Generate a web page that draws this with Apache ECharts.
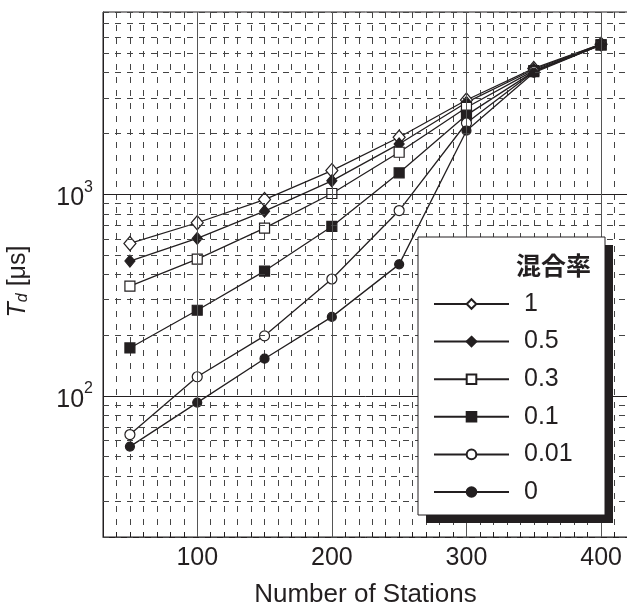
<!DOCTYPE html>
<html>
<head>
<meta charset="utf-8">
<script src="https://cdn.jsdelivr.net/npm/echarts@6/dist/echarts.min.js"></script>
<style>html,body{margin:0;padding:0;background:#fff;}#c{width:627px;height:608px;}</style>
</head>
<body>
<div id="c"></div>
<script>
const stations = [50, 100, 150, 200, 250, 300, 350, 400];
const mix1   = [570, 722, 941, 1310, 1915, 2930, 4200, 5540];
const mix05  = [466, 604, 824, 1165, 1775, 2850, 4150, 5540];
const mix03  = [350, 477, 679, 1008, 1614, 2690, 4100, 5500];
const mix01  = [173, 266, 416, 692, 1276, 2467, 4050, 5500];
const mix001 = [64.4, 124.5, 198.6, 380, 830, 2254, 4050, 5500];
const mix0   = [56.1, 92.7, 153, 246.6, 449, 2065, 4000, 5500];
const seriesNames = ['1', '0.5', '0.3', '0.1', '0.01', '0'];
const legendTitle = '混合率';
const xMajorGrid = [100, 200, 300, 400];
const yMajorGrid = [100, 1000];
const yMinorGrid = [20, 30, 40, 50, 60, 70, 80, 90, 200, 300, 400, 500, 600, 700, 800, 900, 2000, 3000, 4000, 5000, 6000, 7000, 8000];

const INK = '#231f20';
const FONT = "'Liberation Sans', Arial, sans-serif";

function pairs(ys) { return stations.map((x, i) => [x, ys[i]]); }

const symbolDefs = [
  {data: mix1,   symbol: 'diamond', size: [12, 14], fill: '#fff'},
  {data: mix05,  symbol: 'diamond', size: [10, 12], fill: INK},
  {data: mix03,  symbol: 'rect',    size: 10, fill: '#fff'},
  {data: mix01,  symbol: 'rect',    size: 10, fill: INK},
  {data: mix001, symbol: 'circle',  size: 10, fill: '#fff'},
  {data: mix0,   symbol: 'circle',  size: 9,  fill: INK}
];

const series = symbolDefs.map((d, i) => ({
  name: seriesNames[i],
  type: 'line',
  data: pairs(d.data),
  symbol: d.symbol,
  symbolSize: d.size,
  showAllSymbol: true,
  z: 3,
  lineStyle: {color: INK, width: 1.3},
  itemStyle: {color: d.fill, borderColor: INK, borderWidth: 1.2},
  emphasis: {disabled: true},
  animation: false
}));

const gridLines = []
  .concat(yMinorGrid.map(v => ({yAxis: v, lineStyle: {type: [6, 6], color: '#444', width: 1}})))
  .concat(yMajorGrid.map(v => ({yAxis: v, lineStyle: {type: 'solid', color: INK, width: 1}})))
  .concat(xMajorGrid.map(v => ({xAxis: v, lineStyle: {type: 'solid', color: '#555', width: 1}})));

series.unshift({
  name: 'grid',
  type: 'line',
  data: [],
  z: 1,
  silent: true,
  animation: false,
  markLine: {
    silent: true,
    symbol: 'none',
    animation: false,
    label: {show: false},
    emphasis: {disabled: true},
    data: gridLines
  }
});

const chart = echarts.init(document.getElementById('c'), null, {renderer: 'canvas'});
chart.setOption({
  animation: false,
  backgroundColor: '#fff',
  textStyle: {fontFamily: FONT, color: INK},
  grid: {left: 103, top: 12, width: 525, height: 525, outerBoundsMode: 'none', containLabel: false, show: true, borderColor: INK, borderWidth: 1, backgroundColor: 'transparent'},
  graphic: {
    elements: [
      {type: 'rect', z: 100, silent: true, shape: {x: 426, y: 245, width: 187, height: 278}, style: {fill: INK}},
      {type: 'rect', z: 101, silent: true, shape: {x: 418, y: 237, width: 187, height: 278}, style: {fill: '#fff', stroke: INK, lineWidth: 1}}
    ]
  },
  title: {
    text: legendTitle,
    left: 516, top: 253, padding: 0, z: 200,
    textStyle: {fontFamily: "'Noto Sans CJK JP', sans-serif", fontSize: 25, fontWeight: 'bold', color: INK}
  },
  legend: {
    data: seriesNames,
    orient: 'vertical',
    left: 418, top: 237,
    padding: [54, 33, 10, 15],
    itemWidth: 75, itemHeight: 12, itemGap: 11.6,
    selectedMode: false,
    z: 200,
    textStyle: {fontFamily: FONT, fontSize: 25, lineHeight: 26, color: INK, padding: [0, 0, 0, 10]}
  },
  xAxis: {
    type: 'value', min: 30, max: 420, interval: 10,
    name: 'Number of Stations', nameLocation: 'middle', nameGap: 45,
    nameTextStyle: {fontFamily: FONT, fontSize: 26, color: INK},
    axisLine: {show: true, lineStyle: {color: INK, width: 1}},
    axisTick: {show: true, inside: true, length: 5, lineStyle: {color: INK}},
    axisLabel: {
      fontFamily: FONT, fontSize: 25, color: INK, margin: 9,
      formatter: v => (v % 100 === 0 ? String(v) : '')
    },
    splitLine: {show: true, lineStyle: {type: [6, 7], color: '#444', width: 1}}
  },
  yAxis: {
    type: 'log', logBase: 10, min: 20, max: 8000,
    name: '{i|T}{sub|d}{n| [μs]}', nameLocation: 'middle', nameGap: 72, nameRotate: 90,
    nameTextStyle: {
      fontFamily: FONT, color: INK, padding: [0, 14, 0, 0],
      rich: {
        i: {fontFamily: FONT, fontSize: 25, fontStyle: 'italic', color: INK},
        sub: {fontFamily: FONT, fontSize: 16, fontStyle: 'italic', color: INK, padding: [10, 0, 0, 0]},
        n: {fontFamily: FONT, fontSize: 25, color: INK}
      }
    },
    axisLine: {show: true, lineStyle: {color: INK, width: 1}},
    axisTick: {show: false},
    splitLine: {show: false},
    minorTick: {show: false},
    axisLabel: {
      margin: 10,
      formatter: v => {
        const e = Math.log10(v);
        if (Math.abs(e - Math.round(e)) > 1e-6) return '';
        return '{b|10}{s|' + Math.round(e) + '}';
      },
      rich: {
        b: {fontFamily: FONT, fontSize: 25, color: INK, padding: [8, 0, 0, 0]},
        s: {fontFamily: FONT, fontSize: 16, color: INK, padding: [0, 0, 14, 0]}
      }
    }
  },
  series: series
});
</script>
</body>
</html>
